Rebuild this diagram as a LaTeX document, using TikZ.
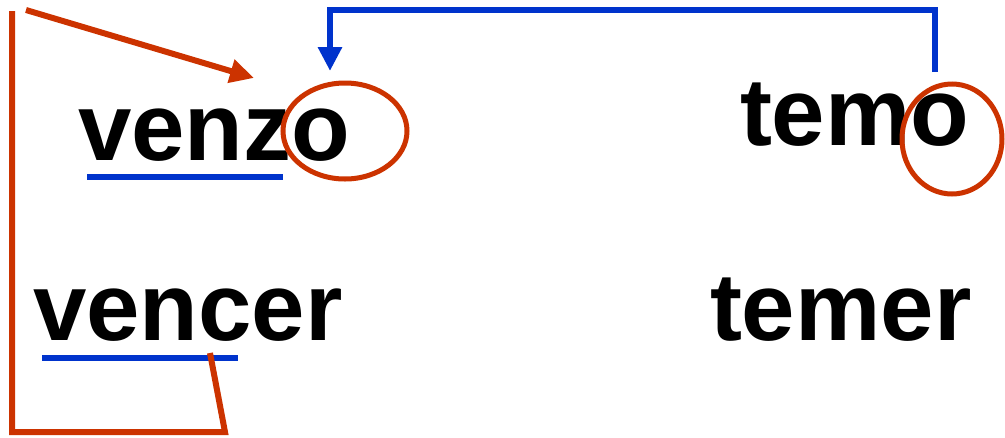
\documentclass[tikz,border=0pt]{standalone}
\usepackage{fontspec}
\setmainfont{Liberation Sans}
\usetikzlibrary{arrows.meta}
\definecolor{myred}{HTML}{CC3300}
\definecolor{myblue}{HTML}{0033CC}
\tikzset{
  word/.style={inner sep=0pt, outer sep=0pt, anchor=base west, font=\fontsize{96}{100}\selectfont\bfseries, text=black},
  redline/.style={draw=myred, line width=6pt},
  blueline/.style={draw=myblue, line width=6pt},
  tip/.style={-{Triangle[length=24pt,width=23pt]}}
}
\begin{document}
\begin{tikzpicture}[x=1pt,y=-1pt]
\useasboundingbox (0,0) rectangle (1005,437);
% words
\node[word] (venzo) at (78,160) {venzo};
\node[word] (temo) at (740,145) {temo};
\node[word] (vencer) at (33,340) {vencer};
\node[word] (temer) at (710,340) {temer};
% underlines
\coordinate (u1a) at (87,177); \coordinate (u1b) at (283,177);
\coordinate (u2a) at (42,358); \coordinate (u2b) at (238,358);
\draw[blueline] (u1a) -- (u1b);
\draw[blueline] (u2a) -- (u2b);
% circles
\draw[redline, line width=5pt] (345,131) ellipse [x radius=62, y radius=48];
\draw[redline, line width=5pt] (952,139) ellipse [x radius=50, y radius=55];
% blue connector
\coordinate (b0) at (935,72);
\coordinate (b1) at (935,10);
\coordinate (b2) at (330,10);
\coordinate (b3) at (330,71);
\draw[blueline, tip] (b0) -- (b1) -- (b2) -- (b3);
% red connectors
\coordinate (r0) at (210,353);
\coordinate (r1) at (225,432);
\coordinate (r2) at (12,432);
\coordinate (r3) at (12,11);
\draw[redline] (r0) -- (r1) -- (r2) -- (r3);
\coordinate (a0) at (26,10);
\coordinate (a1) at (254,78);
\draw[redline, tip] (a0) -- (a1);
\end{tikzpicture}
\end{document}
